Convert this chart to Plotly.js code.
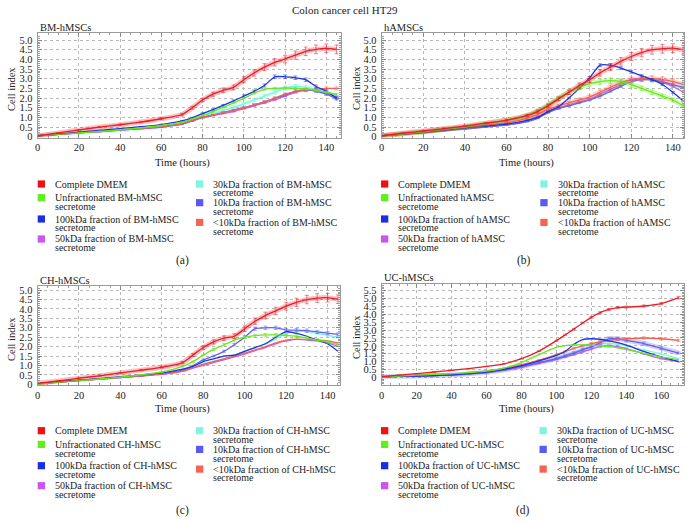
<!DOCTYPE html>
<html><head><meta charset="utf-8">
<script src="https://cdn.plot.ly/plotly-3.0.1.min.js"></script>
<style>html,body{margin:0;padding:0;background:#fff}#chart{width:692px;height:523px}</style>
</head><body><div id="chart"></div>
<script>
// ---------- DATA ----------
const timeABC = [0,10,20,30,40,50,60,70,75,80,85,90,95,100,105,110,115,120,125,130,135,140,145];
const timeD   = [0,10,20,30,40,50,60,70,80,90,100,105,110,115,120,125,130,135,140,150,160,170];

// (a) BM-hMSCs
const bm_dmem   = [0.05,0.2,0.35,0.5,0.62,0.76,0.93,1.15,1.5,1.9,2.2,2.4,2.55,2.95,3.3,3.6,3.85,4.02,4.22,4.42,4.52,4.57,4.52];
const bm_unfrac = [0.05,0.12,0.2,0.28,0.36,0.46,0.58,0.75,0.92,1.1,1.3,1.52,1.75,1.98,2.25,2.45,2.5,2.52,2.5,2.47,2.4,2.3,2.18];
const bm_k100   = [0.05,0.14,0.24,0.33,0.42,0.52,0.63,0.82,0.98,1.2,1.4,1.62,1.85,2.1,2.35,2.65,3.1,3.1,3.05,2.95,2.6,2.35,2.0];
const bm_k50    = [0.05,0.12,0.2,0.27,0.34,0.42,0.5,0.66,0.82,1.0,1.1,1.2,1.3,1.45,1.6,1.75,1.9,2.1,2.3,2.4,2.38,2.25,2.05];
const bm_k30    = [0.05,0.12,0.2,0.28,0.35,0.43,0.52,0.7,0.88,1.05,1.2,1.35,1.52,1.7,1.9,2.1,2.3,2.52,2.6,2.55,2.45,2.3,2.15];
const bm_k10    = [0.05,0.12,0.2,0.27,0.34,0.42,0.5,0.65,0.82,1.0,1.12,1.25,1.37,1.5,1.65,1.8,1.98,2.15,2.35,2.42,2.35,2.2,1.95];
const bm_lt10   = [0.05,0.12,0.2,0.27,0.35,0.43,0.52,0.68,0.84,1.0,1.12,1.25,1.37,1.5,1.65,1.8,2.0,2.2,2.35,2.42,2.45,2.5,2.5];

// (b) hAMSCs
const ha_dmem   = [0.05,0.18,0.3,0.42,0.55,0.7,0.85,1.1,1.3,1.6,1.95,2.3,2.65,2.95,3.3,3.6,3.9,4.15,4.35,4.5,4.55,4.58,4.5];
const ha_unfrac = [0.05,0.15,0.25,0.38,0.5,0.68,0.85,1.1,1.35,1.65,2.0,2.3,2.55,2.75,2.85,2.9,2.85,2.7,2.5,2.3,2.1,1.9,1.6];
const ha_k100   = [0.05,0.13,0.22,0.33,0.45,0.55,0.65,0.85,1.0,1.3,1.55,2.0,2.5,3.05,3.7,3.7,3.55,3.35,3.15,2.95,2.7,2.3,1.85];
const ha_k50    = [0.05,0.13,0.22,0.32,0.42,0.53,0.65,0.85,1.05,1.3,1.5,1.65,1.8,1.95,2.2,2.45,2.7,2.95,3.0,2.95,2.8,2.6,2.3];
const ha_k30    = [0.05,0.13,0.22,0.32,0.42,0.53,0.63,0.8,1.0,1.25,1.45,1.6,1.75,1.9,2.15,2.4,2.65,2.85,2.95,2.9,2.8,2.65,2.5];
const ha_k10    = [0.05,0.12,0.2,0.3,0.4,0.5,0.6,0.78,0.95,1.25,1.45,1.6,1.75,1.9,2.1,2.35,2.6,2.85,2.95,2.95,2.85,2.7,2.55];
const ha_lt10   = [0.05,0.15,0.25,0.37,0.48,0.6,0.72,0.95,1.15,1.4,1.6,1.75,1.9,2.05,2.3,2.55,2.8,2.95,3.0,3.0,2.95,2.85,2.7];

// (c) CH-hMSCs
const ch_dmem   = [0.05,0.18,0.32,0.45,0.6,0.75,0.9,1.15,1.55,1.95,2.25,2.45,2.55,2.95,3.35,3.65,3.9,4.15,4.35,4.5,4.58,4.6,4.52];
const ch_unfrac = [0.0,0.1,0.2,0.28,0.38,0.5,0.65,0.95,1.2,1.55,1.85,2.1,2.35,2.5,2.58,2.62,2.62,2.6,2.55,2.45,2.35,2.25,2.1];
const ch_k100   = [0.05,0.13,0.22,0.3,0.4,0.5,0.6,0.8,0.95,1.2,1.35,1.5,1.55,1.75,1.95,2.15,2.5,2.8,2.7,2.55,2.35,2.15,1.75];
const ch_k50    = [0.05,0.12,0.2,0.27,0.35,0.43,0.52,0.68,0.85,1.0,1.15,1.3,1.45,1.6,1.78,1.95,2.15,2.3,2.38,2.35,2.3,2.2,2.0];
const ch_k30    = [0.05,0.12,0.2,0.28,0.36,0.45,0.55,0.72,0.9,1.1,1.22,1.35,1.55,1.75,1.95,2.15,2.4,2.7,2.8,2.8,2.7,2.6,2.5];
const ch_k10    = [0.05,0.12,0.2,0.28,0.36,0.45,0.56,0.75,0.98,1.3,1.5,1.75,2.1,2.5,2.95,3.0,3.0,2.88,2.88,2.85,2.78,2.72,2.65];
const ch_lt10   = [0.05,0.12,0.2,0.28,0.36,0.45,0.55,0.7,0.88,1.05,1.2,1.35,1.5,1.65,1.82,2.0,2.2,2.35,2.4,2.38,2.35,2.3,2.2];

// (d) UC-hMSCs
const uc_dmem   = [0.05,0.15,0.25,0.35,0.46,0.57,0.7,0.87,1.19,1.67,2.33,2.7,3.06,3.45,3.8,4.1,4.3,4.42,4.45,4.52,4.67,5.05];
const uc_unfrac = [0.05,0.1,0.15,0.2,0.25,0.32,0.4,0.6,0.95,1.45,1.9,2.02,2.06,2.06,2.05,2.0,1.95,1.88,1.78,1.52,1.3,1.12];
const uc_k100   = [0.05,0.08,0.1,0.13,0.17,0.25,0.35,0.52,0.75,1.05,1.4,1.65,2.1,2.4,2.45,2.42,2.32,2.2,2.05,1.65,1.3,1.0];
const uc_k50    = [0.05,0.07,0.1,0.12,0.15,0.22,0.3,0.45,0.65,0.9,1.15,1.3,1.45,1.62,1.8,1.95,2.0,1.95,1.82,1.5,1.2,1.0];
const uc_k30    = [0.05,0.08,0.1,0.13,0.17,0.25,0.35,0.5,0.7,0.95,1.25,1.42,1.6,1.78,1.95,2.1,2.15,2.1,2.0,1.75,1.5,1.2];
const uc_k10    = [0.05,0.08,0.1,0.13,0.16,0.24,0.33,0.48,0.7,0.95,1.2,1.37,1.55,1.75,1.95,2.2,2.45,2.45,2.35,2.15,1.85,1.55];
const uc_lt10   = [0.05,0.1,0.15,0.2,0.22,0.3,0.4,0.58,0.8,1.1,1.45,1.65,1.85,2.0,2.15,2.25,2.35,2.42,2.45,2.5,2.45,2.35];

// approximate error-bar sizes (% of value) per series, order as legend
const bm_err = [5,2,3,2,4,3,3];
const ha_err = [5,5,2,2,3,2,5];
const ch_err = [5,3,1,1,2,3,1];
const uc_err = [1.5,1,1,3,3,4,3];

// labels
const mainTitle = 'Colon cancer cell HT29';
const panelTitles = ['BM-hMSCs','hAMSCs','CH-hMSCs','UC-hMSCs'];
const cellTags = ['BM-hMSC','hAMSC','CH-hMSC','UC-hMSC'];
const panelTags = ['(a)','(b)','(c)','(d)'];
const xTitle = 'Time (hours)';
const yTitle = 'Cell index';
const yTickVals = [0,0.5,1,1.5,2,2.5,3,3.5,4,4.5,5,5.5];
const yTickText = ['0','0.5','1.0','1.5','2.0','2.5','3.0','3.5','4.0','4.5','5.0','5.5'];
const legendFirst = ['Complete DMEM','Unfractionated @','100kDa fraction of @','50kDa fraction of @','30kDa fraction of @','10kDa fraction of @','<10kDa fraction of @'];
const legendSecond = ['','secretome','secretome','secretome','secretome','secretome','secretome'];
const seriesColors = ['#ec1c24','#66e81e','#1c34e0','#c85ff0','#80f2dc','#6262ee','#f4604e'];
const swatchColors = ['#ee1111','#5ef01a','#1a2fe0','#cc55f0','#7ff5df','#5a5af0','#f56450'];

// ---------- LAYOUT GEOMETRY (pixels) ----------
const W = 692, H = 523;
const px = v => v / W;
const py = v => 1 - v / H;

const panels = [
  {t: timeABC, s: [bm_dmem,bm_unfrac,bm_k100,bm_k50,bm_k30,bm_k10,bm_lt10], err: bm_err,
   x0: 37.7, x1: 340.7, top: 33.3, bot: 137.5, xr: [0,147], yr: [-0.04,5.35], ymax: 5,
   titleY: 27.3, yTitleX: 11.5, xTitleX: 182.5, xTitleY: 162.7,
   lx1: 37.7, lx2: 196, legY: 184, tagX: 182.7, tagY: 260},
  {t: timeABC, s: [ha_dmem,ha_unfrac,ha_k100,ha_k50,ha_k30,ha_k10,ha_lt10], err: ha_err,
   x0: 381.7, x1: 684.3, top: 33.3, bot: 137.5, xr: [0,145.5], yr: [-0.04,5.35], ymax: 5,
   titleY: 27.3, yTitleX: 356.5, xTitleX: 526, xTitleY: 162.7,
   lx1: 381, lx2: 540.3, legY: 184, tagX: 524.3, tagY: 260},
  {t: timeABC, s: [ch_dmem,ch_unfrac,ch_k100,ch_k50,ch_k30,ch_k10,ch_lt10], err: ch_err,
   x0: 37.5, x1: 340, top: 286, bot: 385, xr: [0,146], yr: [-0.04,5.22], ymax: 5,
   titleY: 280, yTitleX: 11.5, xTitleX: 182.5, xTitleY: 409,
   lx1: 37.7, lx2: 196, legY: 430.7, tagX: 182.7, tagY: 510},
  {t: timeD, s: [uc_dmem,uc_unfrac,uc_k100,uc_k50,uc_k30,uc_k10,uc_lt10], err: uc_err,
   x0: 381.7, x1: 684, top: 284, bot: 385, xr: [0,173], yr: [-0.47,5.91], ymax: 5.5,
   titleY: 277.5, yTitleX: 356.5, xTitleX: 526, xTitleY: 409,
   lx1: 381, lx2: 539.5, legY: 430.7, tagX: 522.7, tagY: 510.5}
];
const leftOff = [0, 13.7, 35, 55];
const rightOff = [0, 18.7, 38.4];
const line2 = 8.6;

const serif = 'Liberation Serif';
const txt = '#222';
const drawOrder = [4,3,5,6,2,1,0];

function hexA(hex, a) {
  const n = parseInt(hex.slice(1), 16);
  return `rgba(${(n>>16)&255},${(n>>8)&255},${n&255},${a})`;
}

const traces = [];
const layout = {
  width: W, height: H, margin: {l:0, r:0, t:0, b:0},
  paper_bgcolor: '#fff', plot_bgcolor: '#fff', showlegend: false,
  font: {family: serif, size: 10, color: txt},
  annotations: [], shapes: []
};

layout.annotations.push({text: mainTitle, x: px(344.7), y: py(10), xref:'paper', yref:'paper',
  xanchor:'center', yanchor:'middle', showarrow:false, font:{family:serif, size:11, color:txt}});

panels.forEach((p, i) => {
  const k = i === 0 ? '' : String(i + 1);
  const xa = 'x' + k, ya = 'y' + k;
  drawOrder.forEach(j => {
    const e = p.err[j];
    if (e >= 4) {
      traces.push({x: p.t, y: p.s[j], xaxis: xa, yaxis: ya, mode: 'lines', hoverinfo: 'skip',
        line: {color: hexA(seriesColors[j], 0.28), width: 5, shape: 'spline', smoothing: 0.6}});
    }
    traces.push({
      x: p.t, y: p.s[j], xaxis: xa, yaxis: ya, mode: 'lines',
      name: legendFirst[j].replace('@', cellTags[i]) + (legendSecond[j] ? ' ' + legendSecond[j] : ''),
      line: {color: seriesColors[j], width: 1.3, shape: 'spline', smoothing: 0.6},
      error_y: {type: 'percent', value: e, visible: e > 1, color: hexA(seriesColors[j], 0.55), thickness: 1, width: 2}
    });
  });

  const tv = yTickVals.filter(v => v <= p.ymax + 1e-9);
  const tt = yTickText.slice(0, tv.length);
  const common = {
    ticks: 'inside', ticklen: 4, tickwidth: 1, tickcolor: '#8a8a8a',
    showline: true, linecolor: '#9a9a9a', linewidth: 1, mirror: 'allticks',
    showgrid: true, gridcolor: '#b8b8b8', griddash: 'dot', gridwidth: 1,
    zeroline: false, fixedrange: true,
    tickfont: {family: serif, size: 10.5, color: txt}
  };
  layout['xaxis' + k] = Object.assign({}, common, {
    domain: [px(p.x0), px(p.x1)], range: p.xr, anchor: ya, tick0: 0, dtick: 20,
    minor: {dtick: 5, ticks: 'inside', ticklen: 2, tickcolor: '#9a9a9a', showgrid: false}
  });
  layout['yaxis' + k] = Object.assign({}, common, {
    domain: [py(p.bot), py(p.top)], range: p.yr, anchor: xa,
    tickmode: 'array', tickvals: tv, ticktext: tt, ticklabelstandoff: 2,
    minor: {dtick: 0.1, tick0: 0, ticks: 'inside', ticklen: 2, tickcolor: '#9a9a9a', showgrid: false}
  });

  // titles
  layout.annotations.push({text: panelTitles[i], x: px(p.x0), y: py(p.titleY), xref:'paper', yref:'paper',
    xanchor:'left', yanchor:'middle', showarrow:false, font:{family:serif, size:10.5, color:txt}});
  layout.annotations.push({text: yTitle, x: px(p.yTitleX), y: py((p.top + p.bot) / 2 + 3), xref:'paper', yref:'paper',
    xanchor:'center', yanchor:'middle', textangle: -90, showarrow:false, font:{family:serif, size:10.5, color:txt}});
  layout.annotations.push({text: xTitle, x: px(p.xTitleX), y: py(p.xTitleY), xref:'paper', yref:'paper',
    xanchor:'center', yanchor:'middle', showarrow:false, font:{family:serif, size:10.5, color:txt}});
  layout.annotations.push({text: panelTags[i], x: px(p.tagX), y: py(p.tagY), xref:'paper', yref:'paper',
    xanchor:'center', yanchor:'middle', showarrow:false, font:{family:serif, size:11.5, color:txt}});

  // legend
  for (let j = 0; j < 7; j++) {
    const left = j < 4;
    const lx = left ? p.lx1 : p.lx2;
    const ly = p.legY + (left ? leftOff[j] : rightOff[j - 4]);
    layout.shapes.push({type:'rect', xref:'paper', yref:'paper', x0: px(lx), x1: px(lx + 7.3),
      y0: py(ly + 3.6), y1: py(ly - 3.6), fillcolor: swatchColors[j], line: {width: 0}});
    layout.annotations.push({text: legendFirst[j].replace('@', cellTags[i]).replace('<', '&lt;'),
      x: px(lx + 15.3), y: py(ly), xref:'paper', yref:'paper', xanchor:'left', yanchor:'middle',
      showarrow:false, font:{family:serif, size:10, color:txt}});
    if (legendSecond[j]) {
      layout.annotations.push({text: legendSecond[j], x: px(lx + 15.3), y: py(ly + line2), xref:'paper', yref:'paper',
        xanchor:'left', yanchor:'middle', showarrow:false, font:{family:serif, size:10, color:txt}});
    }
  }
});

Plotly.newPlot('chart', traces, layout, {staticPlot: true, displayModeBar: false});
</script>
</body></html>
